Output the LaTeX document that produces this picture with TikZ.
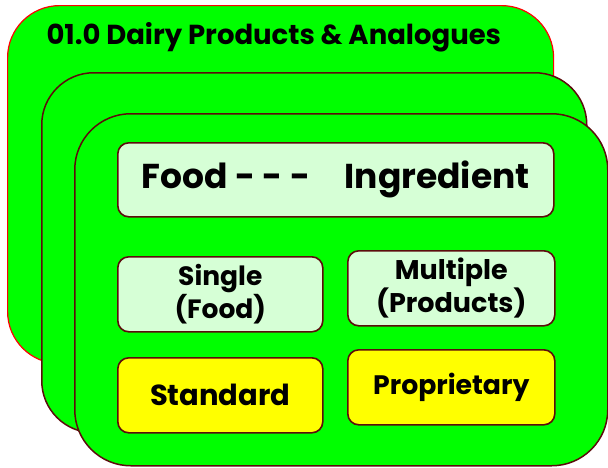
\documentclass[tikz,border=0pt]{standalone}
\usepackage{fontspec}
\setmainfont{Poppins}
\definecolor{cardgreen}{RGB}{0,255,0}
\definecolor{rim}{RGB}{92,12,12}
\definecolor{palegreen}{RGB}{214,255,214}
\definecolor{tagyellow}{RGB}{255,255,0}
\begin{document}
\begin{tikzpicture}[x=1pt,y=-1pt, line join=round, line cap=round, font=\bfseries]
	\tikzset{card/.style={draw=rim, fill=cardgreen, line width=1.5pt, rounded corners=52pt, anchor=north west, inner sep=0pt},
		tag/.style={draw=rim, fill=palegreen, line width=1.6pt, rounded corners=11pt, anchor=north west, inner sep=0pt, align=center}}
	\def\tw{205} \def\th{75} % tag size
	\useasboundingbox (0,0) rectangle (608,467);
	% three stacked cards
	\node[card, draw=red, line width=1.2pt, minimum width=546, minimum height=358] (dairy) at (7,5) {};
	\node[anchor=west, font=\fontsize{27.5}{30}\selectfont\bfseries] (title) at (43,37) {01.0 Dairy Products \& Analogues};
	\node[card, minimum width=545, minimum height=360] (middle) at (41,72) {};
	\node[card, minimum width=533, minimum height=352, rounded corners=56pt] (front) at (74,113) {};
	% tags
	\node[tag, minimum width=436, minimum height=74, font=\fontsize{34.5}{38}\selectfont\bfseries] (foodingr) at (117,142) {Food - - -\quad Ingredient};
	\node[tag, minimum width=\tw, minimum height=\th, font=\fontsize{26.5}{31}\selectfont\bfseries] (single) at (117,256) {Single\\(Food)};
	\node[tag, minimum width=207, minimum height=\th, font=\fontsize{27}{31}\selectfont\bfseries] (multiple) at (347,250) {Multiple\\(Products)};
	\node[tag, fill=tagyellow, minimum width=\tw, minimum height=\th, font=\fontsize{29}{32}\selectfont\bfseries] (standard) at (117,357) {Standard};
	\node[tag, fill=tagyellow, minimum width=207, minimum height=\th, font=\fontsize{26.7}{30}\selectfont\bfseries] (propr) at (347,349) {Proprietary};
\end{tikzpicture}
\end{document}
